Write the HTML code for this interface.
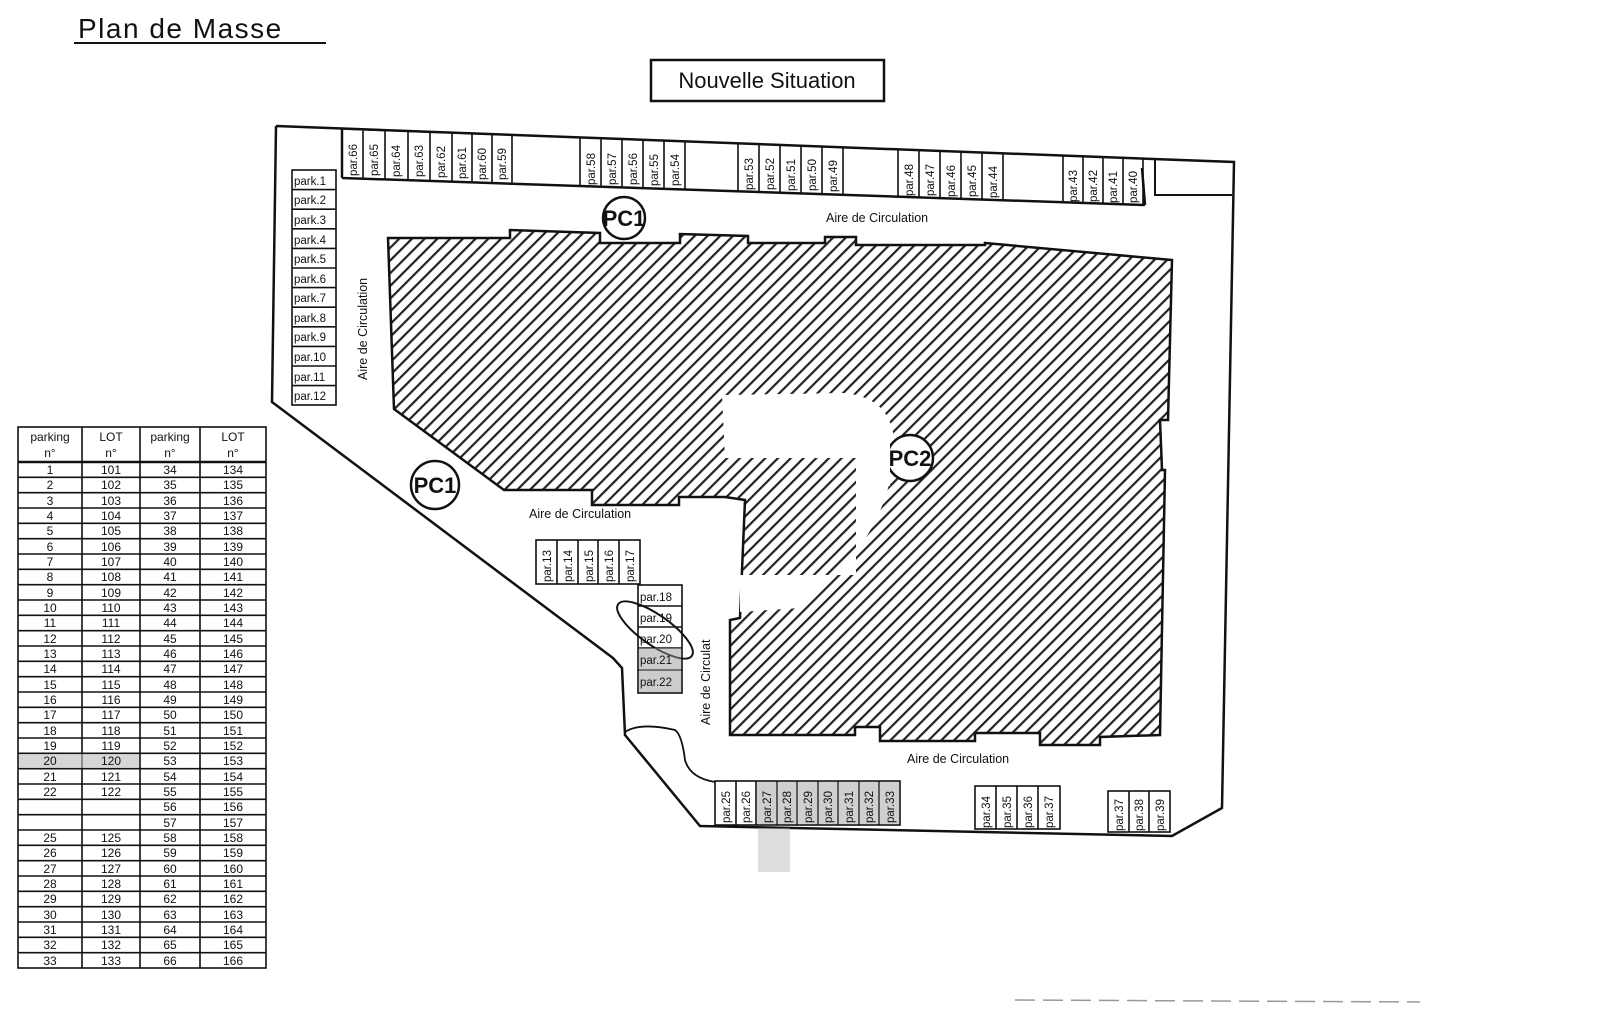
<!DOCTYPE html>
<html><head><meta charset="utf-8"><style>
html,body{margin:0;padding:0;background:#fff;}
svg{display:block;}
text{font-family:"Liberation Sans",sans-serif;fill:#111;}
.c{font-size:11.5px;}
.t{font-size:12px;text-anchor:middle;}
.l{font-size:12.5px;}
</style></head><body>
<svg width="1600" height="1025" viewBox="0 0 1600 1025" xmlns="http://www.w3.org/2000/svg">
<defs>
<pattern id="h" patternUnits="userSpaceOnUse" width="9" height="9" patternTransform="rotate(45)">
<rect width="9" height="9" fill="#fff"/><rect x="0" y="0" width="2.2" height="9" fill="#222"/>
</pattern>
</defs>
<!-- titles -->
<text x="78" y="38" style="font-size:28px;letter-spacing:1.5px">Plan de Masse</text>
<line x1="74" y1="43" x2="326" y2="43" stroke="#111" stroke-width="2"/>
<rect x="651" y="60" width="233" height="41" fill="none" stroke="#111" stroke-width="2.5"/>
<text x="767" y="88" style="font-size:22px;text-anchor:middle">Nouvelle Situation</text>

<!-- building -->
<path d="M388,238 L510,238 L510,230 L600,233 L600,243 L680,243 L680,234 L748,236 L748,243 L825,243 L825,237 L856,237 L856,245 L985,245 L985,243 L1172,260 L1168,420 L1160,420 L1162,470 L1165,470 L1160,735 L1100,737 L1100,745 L1040,745 L1040,733 L975,733 L975,741 L880,741 L880,727 L855,727 L855,735 L730,735 L730,620 L740,618 L745,500 L725,497 L679,497 L679,505 L592,505 L592,490 L504,490 L394,409 Z" fill="url(#h)" stroke="#111" stroke-width="2.5"/>
<!-- white blob -->
<path d="M722,395 L845,393 Q905,400 892,470 Q880,545 800,608 L740,612 L740,575 L856,575 L856,458 L725,458 Z" fill="#fff"/>

<!-- outer boundary -->
<path d="M276,126 L1234,162 L1222,808 L1172,836 L700,826 L625,735 L622,668 L613,658 L272,402 L276,126" fill="none" stroke="#111" stroke-width="2.5"/>
<path d="M625,732 Q640,722 675,730 Q682,735 685,760 Q690,778 715,782" fill="none" stroke="#111" stroke-width="1.8"/>
<!-- top strip inner line -->
<path d="M342,178 L1145,205 M342,128 L342,178 M1142,168 L1145,205" fill="none" stroke="#111" stroke-width="2.5"/>
<path d="M1155,160 L1155,195 L1232,195" fill="none" stroke="#111" stroke-width="2"/>

<!-- top parking cells -->
<g fill="none" stroke="#111" stroke-width="1.6">
<path d="M342,129 L512,135 L512,184 M363,130 L363,179 M385,131 L385,180 M408,131 L408,180 M430,132 L430,181 M452,133 L452,182 M472,134 L472,182 M492,134 L492,183"/>
<path d="M580,137 L580,187 M601,138 L601,187 M622,139 L622,188 M643,140 L643,189 M664,140 L664,189 M685,141 L685,190"/>
<path d="M738,143 L738,192 M759,144 L759,193 M780,145 L780,193 M801,145 L801,194 M822,146 L822,195 M843,147 L843,195"/>
<path d="M898,149 L898,198 M919,150 L919,198 M940,150 L940,199 M961,151 L961,200 M982,152 L982,200 M1003,153 L1003,201"/>
<path d="M1063,155 L1063,203 M1083,156 L1083,204 M1103,157 L1103,204 M1123,157 L1123,205 M1143,158 L1143,205"/>
</g>
<g class="c">
<text transform="translate(357,176) rotate(-90)">par.66</text>
<text transform="translate(378,176) rotate(-90)">par.65</text>
<text transform="translate(400,177) rotate(-90)">par.64</text>
<text transform="translate(423,177) rotate(-90)">par.63</text>
<text transform="translate(445,178) rotate(-90)">par.62</text>
<text transform="translate(466,179) rotate(-90)">par.61</text>
<text transform="translate(486,180) rotate(-90)">par.60</text>
<text transform="translate(506,180) rotate(-90)">par.59</text>
<text transform="translate(595,185) rotate(-90)">par.58</text>
<text transform="translate(616,185) rotate(-90)">par.57</text>
<text transform="translate(637,185) rotate(-90)">par.56</text>
<text transform="translate(658,186) rotate(-90)">par.55</text>
<text transform="translate(679,186) rotate(-90)">par.54</text>
<text transform="translate(753,190) rotate(-90)">par.53</text>
<text transform="translate(774,190) rotate(-90)">par.52</text>
<text transform="translate(795,191) rotate(-90)">par.51</text>
<text transform="translate(816,191) rotate(-90)">par.50</text>
<text transform="translate(837,192) rotate(-90)">par.49</text>
<text transform="translate(913,196) rotate(-90)">par.48</text>
<text transform="translate(934,196) rotate(-90)">par.47</text>
<text transform="translate(955,197) rotate(-90)">par.46</text>
<text transform="translate(976,197) rotate(-90)">par.45</text>
<text transform="translate(997,198) rotate(-90)">par.44</text>
<text transform="translate(1077,202) rotate(-90)">par.43</text>
<text transform="translate(1097,202) rotate(-90)">par.42</text>
<text transform="translate(1117,203) rotate(-90)">par.41</text>
<text transform="translate(1137,203) rotate(-90)">par.40</text>
</g>

<!-- left column -->
<g fill="none" stroke="#111" stroke-width="1.6">
<rect x="292" y="170" width="44" height="235"/>
<line x1="292" y1="189.6" x2="336" y2="189.6"/><line x1="292" y1="209.2" x2="336" y2="209.2"/><line x1="292" y1="228.8" x2="336" y2="228.8"/><line x1="292" y1="248.4" x2="336" y2="248.4"/><line x1="292" y1="268" x2="336" y2="268"/><line x1="292" y1="287.6" x2="336" y2="287.6"/><line x1="292" y1="307.2" x2="336" y2="307.2"/><line x1="292" y1="326.8" x2="336" y2="326.8"/><line x1="292" y1="346.4" x2="336" y2="346.4"/><line x1="292" y1="366" x2="336" y2="366"/><line x1="292" y1="385.6" x2="336" y2="385.6"/>
</g>
<g class="c">
<text x="294" y="185">park.1</text><text x="294" y="204">park.2</text><text x="294" y="224">park.3</text><text x="294" y="244">park.4</text><text x="294" y="263">park.5</text><text x="294" y="283">park.6</text><text x="294" y="302">park.7</text><text x="294" y="322">park.8</text><text x="294" y="341">park.9</text><text x="294" y="361">par.10</text><text x="294" y="381">par.11</text><text x="294" y="400">par.12</text>
</g>

<!-- middle groups -->
<g fill="none" stroke="#111" stroke-width="1.6">
<rect x="536" y="540" width="104" height="44"/>
<line x1="557" y1="540" x2="557" y2="584"/><line x1="578" y1="540" x2="578" y2="584"/><line x1="598" y1="540" x2="598" y2="584"/><line x1="619" y1="540" x2="619" y2="584"/>
<rect x="638" y="585" width="44" height="108"/>
<line x1="638" y1="606" x2="682" y2="606"/><line x1="638" y1="627" x2="682" y2="627"/><line x1="638" y1="648" x2="682" y2="648"/><line x1="638" y1="670" x2="682" y2="670"/>
<ellipse cx="655" cy="630" rx="45" ry="15" transform="rotate(35 655 630)" stroke-width="2"/>
</g>
<rect x="639" y="648" width="42" height="44" fill="#999" opacity="0.5"/>
<g class="c">
<text transform="translate(551,582) rotate(-90)">par.13</text>
<text transform="translate(572,582) rotate(-90)">par.14</text>
<text transform="translate(593,582) rotate(-90)">par.15</text>
<text transform="translate(613,582) rotate(-90)">par.16</text>
<text transform="translate(634,582) rotate(-90)">par.17</text>
<text x="640" y="601">par.18</text><text x="640" y="622">par.19</text><text x="640" y="643">par.20</text><text x="640" y="664">par.21</text><text x="640" y="686">par.22</text>
</g>

<!-- bottom groups -->
<g fill="none" stroke="#111" stroke-width="1.6">
<rect x="715" y="781" width="185" height="44"/>
<line x1="736" y1="781" x2="736" y2="825"/><line x1="756" y1="781" x2="756" y2="825"/><line x1="777" y1="781" x2="777" y2="825"/><line x1="797" y1="781" x2="797" y2="825"/><line x1="818" y1="781" x2="818" y2="825"/><line x1="838" y1="781" x2="838" y2="825"/><line x1="859" y1="781" x2="859" y2="825"/><line x1="879" y1="781" x2="879" y2="825"/>
<rect x="975" y="786" width="85" height="43"/>
<line x1="996" y1="786" x2="996" y2="829"/><line x1="1017" y1="786" x2="1017" y2="829"/><line x1="1038" y1="786" x2="1038" y2="829"/>
<rect x="1108" y="791" width="62" height="41"/>
<line x1="1129" y1="791" x2="1129" y2="832"/><line x1="1149" y1="791" x2="1149" y2="832"/>
</g>
<rect x="757" y="782" width="142" height="42" fill="#888" opacity="0.4"/>
<rect x="758" y="828" width="32" height="44" fill="#bbb" opacity="0.5"/>
<g class="c">
<text transform="translate(730,823) rotate(-90)">par.25</text>
<text transform="translate(750,823) rotate(-90)">par.26</text>
<text transform="translate(771,823) rotate(-90)">par.27</text>
<text transform="translate(791,823) rotate(-90)">par.28</text>
<text transform="translate(812,823) rotate(-90)">par.29</text>
<text transform="translate(832,823) rotate(-90)">par.30</text>
<text transform="translate(853,823) rotate(-90)">par.31</text>
<text transform="translate(873,823) rotate(-90)">par.32</text>
<text transform="translate(894,823) rotate(-90)">par.33</text>
<text transform="translate(990,828) rotate(-90)">par.34</text>
<text transform="translate(1011,828) rotate(-90)">par.35</text>
<text transform="translate(1032,828) rotate(-90)">par.36</text>
<text transform="translate(1053,828) rotate(-90)">par.37</text>
<text transform="translate(1123,831) rotate(-90)">par.37</text>
<text transform="translate(1143,831) rotate(-90)">par.38</text>
<text transform="translate(1164,831) rotate(-90)">par.39</text>
</g>

<!-- PC circles -->
<g fill="#fff" stroke="#111" stroke-width="2.5">
<circle cx="624" cy="218" r="21"/><circle cx="435" cy="485" r="24"/><circle cx="910" cy="458" r="23"/>
</g>
<rect x="870" y="430" width="20" height="56" fill="#fff"/>
<g style="font-size:22px;font-weight:bold;text-anchor:middle">
<text x="624" y="226">PC1</text><text x="435" y="493">PC1</text><text x="910" y="466">PC2</text>
</g>

<!-- circulation labels -->
<g class="l">
<text x="826" y="222">Aire  de  Circulation</text>
<text x="529" y="518">Aire  de  Circulation</text>
<text x="907" y="763">Aire  de  Circulation</text>
<text transform="translate(367,380) rotate(-90)">Aire   de   Circulation</text>
<text transform="translate(710,725) rotate(-90)">Aire   de   Circulat</text>
</g>

<!-- table -->
<g fill="none" stroke="#111" stroke-width="1.6">
<rect x="18" y="427" width="248" height="541"/>
<line x1="82" y1="427" x2="82" y2="968"/><line x1="140" y1="427" x2="140" y2="968"/><line x1="200" y1="427" x2="200" y2="968"/>
<line x1="18" y1="462" x2="266" y2="462" stroke-width="2.5"/>
<path d="M18,477.3H266M18,492.7H266M18,508H266M18,523.3H266M18,538.7H266M18,554H266M18,569.3H266M18,584.7H266M18,600H266M18,615.3H266M18,630.7H266M18,646H266M18,661.3H266M18,676.7H266M18,692H266M18,707.3H266M18,722.7H266M18,738H266M18,753.3H266M18,768.7H266M18,784H266M18,799.3H266M18,814.7H266M18,830H266M18,845.3H266M18,860.7H266M18,876H266M18,891.3H266M18,906.7H266M18,922H266M18,937.3H266M18,952.7H266"/>
</g>
<rect x="19" y="754" width="120" height="14" fill="#bbb" opacity="0.6"/>
<g class="t">
<text x="50" y="441">parking</text><text x="50" y="457">n°</text>
<text x="111" y="441">LOT</text><text x="111" y="457">n°</text>
<text x="170" y="441">parking</text><text x="170" y="457">n°</text>
<text x="233" y="441">LOT</text><text x="233" y="457">n°</text>
</g>
<g class="t">
<text x="50" y="474">1</text><text x="111" y="474">101</text><text x="170" y="474">34</text><text x="233" y="474">134</text>
<text x="50" y="489">2</text><text x="111" y="489">102</text><text x="170" y="489">35</text><text x="233" y="489">135</text>
<text x="50" y="505">3</text><text x="111" y="505">103</text><text x="170" y="505">36</text><text x="233" y="505">136</text>
<text x="50" y="520">4</text><text x="111" y="520">104</text><text x="170" y="520">37</text><text x="233" y="520">137</text>
<text x="50" y="535">5</text><text x="111" y="535">105</text><text x="170" y="535">38</text><text x="233" y="535">138</text>
<text x="50" y="551">6</text><text x="111" y="551">106</text><text x="170" y="551">39</text><text x="233" y="551">139</text>
<text x="50" y="566">7</text><text x="111" y="566">107</text><text x="170" y="566">40</text><text x="233" y="566">140</text>
<text x="50" y="581">8</text><text x="111" y="581">108</text><text x="170" y="581">41</text><text x="233" y="581">141</text>
<text x="50" y="597">9</text><text x="111" y="597">109</text><text x="170" y="597">42</text><text x="233" y="597">142</text>
<text x="50" y="612">10</text><text x="111" y="612">110</text><text x="170" y="612">43</text><text x="233" y="612">143</text>
<text x="50" y="627">11</text><text x="111" y="627">111</text><text x="170" y="627">44</text><text x="233" y="627">144</text>
<text x="50" y="643">12</text><text x="111" y="643">112</text><text x="170" y="643">45</text><text x="233" y="643">145</text>
<text x="50" y="658">13</text><text x="111" y="658">113</text><text x="170" y="658">46</text><text x="233" y="658">146</text>
<text x="50" y="673">14</text><text x="111" y="673">114</text><text x="170" y="673">47</text><text x="233" y="673">147</text>
<text x="50" y="689">15</text><text x="111" y="689">115</text><text x="170" y="689">48</text><text x="233" y="689">148</text>
<text x="50" y="704">16</text><text x="111" y="704">116</text><text x="170" y="704">49</text><text x="233" y="704">149</text>
<text x="50" y="719">17</text><text x="111" y="719">117</text><text x="170" y="719">50</text><text x="233" y="719">150</text>
<text x="50" y="735">18</text><text x="111" y="735">118</text><text x="170" y="735">51</text><text x="233" y="735">151</text>
<text x="50" y="750">19</text><text x="111" y="750">119</text><text x="170" y="750">52</text><text x="233" y="750">152</text>
<text x="50" y="765">20</text><text x="111" y="765">120</text><text x="170" y="765">53</text><text x="233" y="765">153</text>
<text x="50" y="781">21</text><text x="111" y="781">121</text><text x="170" y="781">54</text><text x="233" y="781">154</text>
<text x="50" y="796">22</text><text x="111" y="796">122</text><text x="170" y="796">55</text><text x="233" y="796">155</text>
<text x="170" y="811">56</text><text x="233" y="811">156</text>
<text x="170" y="827">57</text><text x="233" y="827">157</text>
<text x="50" y="842">25</text><text x="111" y="842">125</text><text x="170" y="842">58</text><text x="233" y="842">158</text>
<text x="50" y="857">26</text><text x="111" y="857">126</text><text x="170" y="857">59</text><text x="233" y="857">159</text>
<text x="50" y="873">27</text><text x="111" y="873">127</text><text x="170" y="873">60</text><text x="233" y="873">160</text>
<text x="50" y="888">28</text><text x="111" y="888">128</text><text x="170" y="888">61</text><text x="233" y="888">161</text>
<text x="50" y="903">29</text><text x="111" y="903">129</text><text x="170" y="903">62</text><text x="233" y="903">162</text>
<text x="50" y="919">30</text><text x="111" y="919">130</text><text x="170" y="919">63</text><text x="233" y="919">163</text>
<text x="50" y="934">31</text><text x="111" y="934">131</text><text x="170" y="934">64</text><text x="233" y="934">164</text>
<text x="50" y="949">32</text><text x="111" y="949">132</text><text x="170" y="949">65</text><text x="233" y="949">165</text>
<text x="50" y="965">33</text><text x="111" y="965">133</text><text x="170" y="965">66</text><text x="233" y="965">166</text>
</g>
<line x1="1015" y1="1000" x2="1420" y2="1002" stroke="#999" stroke-width="1.5" stroke-dasharray="20,8"/>
</svg>
</body></html>
